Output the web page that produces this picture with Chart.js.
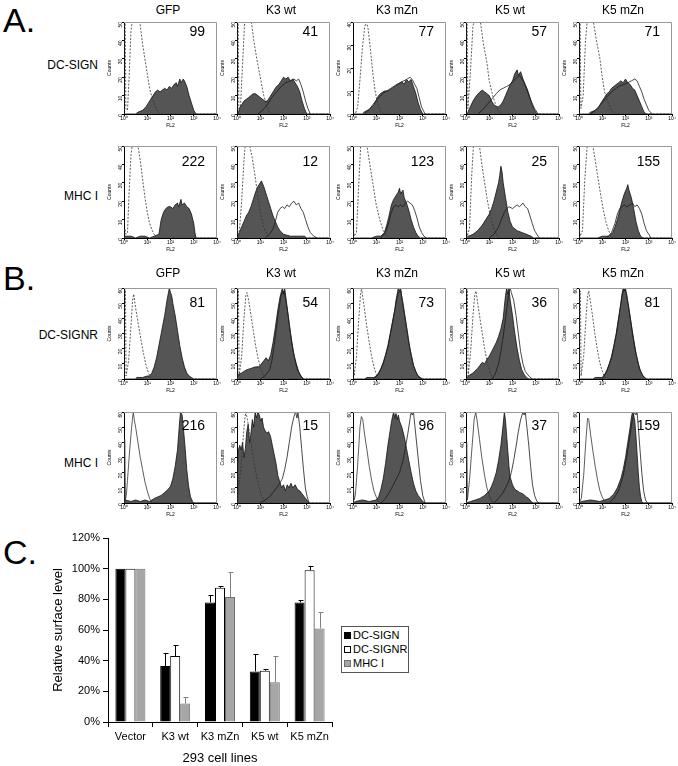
<!DOCTYPE html>
<html lang="en">
<head>
<meta charset="utf-8">
<title>DC-SIGN / DC-SIGNR / MHC I</title>
<script src="https://cdn.jsdelivr.net/npm/chart.js@4.4.1/dist/chart.umd.min.js"></script>
<style>
    body { margin: 0; background: #fff; }
    #figura { position: relative; width: 678px; height: 766px; overflow: hidden; font-family: "Liberation Sans", Arial, sans-serif; color: #000; }
    .texto { position: absolute; white-space: nowrap; }
    .panel { position: absolute; }
    #leyenda { position: absolute; left: 341px; top: 626px; width: 66px; height: 44px; border: 1px solid #555; font-size: 11px; padding-top: 1px; white-space: nowrap; }
    #leyenda div { height: 14px; line-height: 14px; padding-left: 2px; }
    #leyenda span { display: inline-block; width: 7px; height: 7px; box-sizing: border-box; margin-right: 2px; vertical-align: 0px; }
</style>
</head>
<body>
<div id="figura"></div>
<script>
//Lineas celulares (columnas) y etiquetas
const lineas = ['GFP', 'K3 wt', 'K3 mZn', 'K5 wt', 'K5 mZn'];
const decadas = ['10⁰', '10¹', '10²', '10³', '10⁴'];

//MFI que aparece en cada histograma
const mfiDcSign = [99, 41, 77, 57, 71];
const mfiMhcA = [222, 12, 123, 25, 155];
const mfiDcSignR = [81, 54, 73, 36, 81];
const mfiMhcB = [216, 15, 96, 37, 159];

//Maximo del eje de cuentas de cada histograma
const maxDcSign = [50, 50, 40, 50, 50];
const maxMhcA = [50, 50, 50, 50, 50];
const maxDcSignR = [60, 60, 60, 60, 60];
const maxMhcB = [60, 60, 60, 60, 60];

//Histogramas: pares [decada, cuentas]
//A. DC-SIGN
const dcSignControl = [
    [[0,0],[0.02,50],[0.05,50],[0.08,3],[0.15,2],[0.22,20],[0.3,45],[0.35,50],[0.68,50],[0.8,38],[0.9,30],[1.0,22],[1.1,14],[1.2,9],[1.35,4],[1.5,0],[4,0]],
    [[0,0],[0.02,50],[0.05,50],[0.08,3],[0.15,4],[0.25,30],[0.33,50],[0.62,50],[0.72,40],[0.85,30],[1.0,20],[1.15,10],[1.3,4],[1.42,0],[4,0]],
    [[0,0],[0.1,0],[0.2,3],[0.3,15],[0.4,28],[0.5,38],[0.58,40],[0.65,37],[0.75,28],[0.85,18],[0.95,10],[1.05,5],[1.2,1],[1.3,0],[4,0]],
    [[0,0],[0.02,50],[0.05,50],[0.08,3],[0.2,25],[0.3,48],[0.35,50],[0.62,50],[0.75,38],[0.9,28],[1.0,18],[1.15,10],[1.3,4],[1.45,0],[4,0]],
    [[0,0],[0.02,50],[0.05,50],[0.08,3],[0.18,10],[0.28,40],[0.35,50],[0.62,50],[0.75,40],[0.9,30],[1.0,20],[1.1,12],[1.35,3],[1.5,0],[4,0]]
];
const dcSignMuestra = [
    [[0,0],[0.5,0],[0.6,1],[0.8,2],[0.95,4],[1.05,6],[1.15,8],[1.25,10],[1.35,12],[1.45,13],[1.55,12],[1.65,13],[1.75,14],[1.85,13],[1.95,15],[2.05,14],[2.15,16],[2.25,17],[2.3,15],[2.4,19],[2.45,17],[2.55,19],[2.6,18],[2.7,15],[2.8,10],[2.9,6],[3.0,2],[3.1,0],[4,0]],
    [[0,0],[0.05,0],[0.1,3],[0.2,5],[0.3,7],[0.4,8],[0.5,9],[0.6,10],[0.7,11],[0.8,11],[0.9,10],[1.0,9],[1.1,8],[1.2,7],[1.3,7],[1.4,9],[1.5,11],[1.6,13],[1.7,15],[1.8,16],[1.9,18],[2.0,20],[2.1,19],[2.2,20],[2.3,18],[2.4,19],[2.5,17],[2.6,15],[2.7,12],[2.8,7],[2.9,3],[3.0,0],[4,0]],
    [[0,0],[0.4,0],[0.5,1],[0.7,2],[0.9,4],[1.0,6],[1.1,8],[1.2,9],[1.35,10],[1.5,10],[1.65,11],[1.8,12],[1.95,13],[2.1,14],[2.2,13],[2.3,15],[2.4,14],[2.5,15],[2.6,12],[2.7,9],[2.8,5],[2.9,2],[3.0,0],[4,0]],
    [[0,0],[0.05,0],[0.15,3],[0.3,7],[0.45,10],[0.6,12],[0.7,13],[0.8,12],[0.9,11],[1.0,10],[1.1,7],[1.2,5],[1.3,4],[1.4,4],[1.5,5],[1.6,7],[1.7,10],[1.8,13],[1.9,16],[2.0,18],[2.1,22],[2.2,24],[2.25,21],[2.35,23],[2.45,19],[2.55,16],[2.65,13],[2.75,9],[2.85,5],[2.95,2],[3.05,0],[4,0]],
    [[0,0],[0.4,0],[0.5,1],[0.7,2],[0.85,4],[1.0,7],[1.1,9],[1.2,11],[1.3,12],[1.4,14],[1.5,15],[1.6,16],[1.7,17],[1.8,18],[1.9,17],[2.0,19],[2.1,17],[2.2,16],[2.3,14],[2.4,13],[2.5,10],[2.6,7],[2.7,4],[2.8,1],[2.9,0],[4,0]]
];
const dcSignReferencia = [
    null,
    [[0.9,0],[1.1,2],[1.3,5],[1.5,9],[1.7,12],[1.9,15],[2.1,17],[2.3,18],[2.45,19],[2.55,18],[2.65,19],[2.75,16],[2.85,12],[2.95,7],[3.05,3],[3.15,0]],
    [[0.5,0],[0.7,2],[1.0,6],[1.3,9],[1.6,11],[1.9,13],[2.1,14],[2.3,15],[2.45,16],[2.55,15],[2.65,13],[2.75,11],[2.85,7],[2.95,3],[3.1,0]],
    [[0.5,0],[0.7,2],[0.9,5],[1.1,8],[1.3,11],[1.45,13],[1.6,14],[1.75,15],[1.9,16],[2.05,18],[2.2,20],[2.3,21],[2.4,19],[2.5,17],[2.65,12],[2.8,7],[2.95,3],[3.1,0]],
    [[0.5,0],[0.8,3],[1.1,8],[1.4,12],[1.7,15],[1.9,16],[2.1,17],[2.25,18],[2.4,19],[2.5,18],[2.6,15],[2.7,12],[2.8,8],[2.9,5],[3.0,2],[3.15,0]]
];

//A. MHC I
const mhcAControl = [
    [[0,0],[0.02,5],[0.05,5],[0.08,2],[0.15,3],[0.22,25],[0.3,45],[0.35,50],[0.6,50],[0.7,42],[0.8,32],[0.9,22],[1.0,14],[1.1,8],[1.25,3],[1.4,0],[4,0]],
    [[0,0],[0.02,5],[0.05,0],[0.1,3],[0.2,20],[0.3,42],[0.35,50],[0.55,50],[0.65,44],[0.75,36],[0.85,27],[0.95,18],[1.05,11],[1.15,6],[1.3,2],[1.45,0],[4,0]],
    [[0,0],[0.02,5],[0.05,1],[0.15,3],[0.25,30],[0.33,50],[0.6,50],[0.7,42],[0.85,30],[1.0,18],[1.15,10],[1.3,4],[1.45,1],[1.6,0],[4,0]],
    [[0,0],[0.02,5],[0.05,1],[0.15,5],[0.25,35],[0.32,50],[0.58,50],[0.68,40],[0.8,30],[0.9,22],[1.0,15],[1.1,9],[1.2,5],[1.4,0],[4,0]],
    [[0,0],[0.02,5],[0.05,1],[0.15,4],[0.25,32],[0.35,50],[0.6,50],[0.7,42],[0.85,30],[0.95,22],[1.05,15],[1.15,9],[1.25,5],[1.4,0],[4,0]]
];
const mhcAMuestra = [
    [[0,0],[0.05,1],[0.3,1],[0.5,0],[0.7,1],[0.9,1],[1.1,0],[1.3,1],[1.5,2],[1.55,6],[1.6,10],[1.7,14],[1.8,16],[1.9,17],[2.0,17],[2.1,16],[2.2,18],[2.3,19],[2.35,17],[2.45,21],[2.5,18],[2.6,19],[2.7,17],[2.8,16],[2.9,13],[3.0,8],[3.05,3],[3.1,0],[4,0]],
    [[0,0],[0.1,3],[0.2,6],[0.3,9],[0.4,12],[0.5,14],[0.6,17],[0.7,21],[0.8,25],[0.9,28],[1.0,30],[1.05,31],[1.15,28],[1.25,24],[1.35,20],[1.45,16],[1.55,12],[1.65,9],[1.75,6],[1.85,4],[2.0,2],[2.3,1],[2.6,1],[2.9,1],[3.0,0],[4,0]],
    [[0,0],[0.8,0],[1.0,1],[1.2,1],[1.35,3],[1.45,7],[1.55,12],[1.65,18],[1.75,21],[1.85,23],[1.95,25],[2.0,27],[2.05,24],[2.15,26],[2.2,22],[2.3,19],[2.4,15],[2.5,10],[2.6,6],[2.7,3],[2.8,1],[2.9,0],[4,0]],
    [[0,0],[0.1,1],[0.3,2],[0.5,4],[0.7,7],[0.85,10],[1.0,13],[1.1,16],[1.2,20],[1.3,25],[1.4,30],[1.45,34],[1.5,39],[1.55,36],[1.6,30],[1.7,22],[1.8,14],[1.9,9],[2.0,6],[2.2,4],[2.4,3],[2.6,2],[2.8,1],[2.9,0],[4,0]],
    [[0,0],[0.8,0],[1.0,1],[1.3,1],[1.45,3],[1.55,6],[1.65,10],[1.75,15],[1.85,20],[1.95,24],[2.05,27],[2.1,29],[2.15,26],[2.25,22],[2.35,16],[2.45,9],[2.55,4],[2.65,1],[2.75,0],[4,0]]
];
const mhcAReferencia = [
    null,
    [[1.2,0],[1.4,2],[1.55,5],[1.65,9],[1.75,14],[1.85,16],[1.95,17],[2.05,16],[2.15,18],[2.25,17],[2.35,19],[2.45,20],[2.55,18],[2.65,19],[2.75,16],[2.85,14],[2.95,10],[3.05,6],[3.15,3],[3.3,1],[3.45,0]],
    [[1.2,0],[1.4,3],[1.55,9],[1.65,14],[1.75,17],[1.85,18],[1.95,17],[2.05,18],[2.15,17],[2.25,19],[2.35,20],[2.45,19],[2.55,18],[2.65,15],[2.75,11],[2.85,6],[2.95,3],[3.05,1],[3.15,0]],
    [[1.0,0],[1.2,2],[1.4,6],[1.55,11],[1.65,14],[1.75,16],[1.85,17],[2.0,16],[2.1,17],[2.2,18],[2.3,17],[2.45,19],[2.55,17],[2.65,16],[2.75,12],[2.85,8],[2.95,4],[3.05,2],[3.15,0]],
    [[1.2,0],[1.4,3],[1.55,8],[1.65,13],[1.75,16],[1.85,17],[1.95,18],[2.05,17],[2.2,18],[2.3,19],[2.4,17],[2.5,18],[2.6,16],[2.7,13],[2.8,8],[2.9,4],[3.0,2],[3.1,0]]
];

//B. DC-SIGNR
const dcSignRControl = [
    [[0,0],[0.03,60],[0.06,60],[0.09,2],[0.2,12],[0.3,35],[0.37,52],[0.42,56],[0.47,50],[0.55,42],[0.65,33],[0.75,24],[0.85,16],[0.95,9],[1.05,4],[1.15,1],[1.25,0],[4,0]],
    [[0,0],[0.03,60],[0.06,60],[0.09,2],[0.2,15],[0.3,40],[0.38,55],[0.43,57],[0.5,52],[0.6,42],[0.7,32],[0.8,22],[0.9,14],[1.0,8],[1.1,4],[1.2,1],[1.3,0],[4,0]],
    [[0,0],[0.02,10],[0.05,2],[0.15,15],[0.25,40],[0.32,55],[0.37,60],[0.42,54],[0.5,45],[0.6,34],[0.7,24],[0.8,15],[0.9,8],[1.0,3],[1.1,0],[4,0]],
    [[0,0],[0.03,60],[0.06,60],[0.09,2],[0.2,18],[0.3,42],[0.38,56],[0.43,58],[0.5,50],[0.6,40],[0.7,30],[0.8,20],[0.9,12],[1.0,6],[1.1,2],[1.2,0],[4,0]],
    [[0,0],[0.03,58],[0.06,58],[0.09,2],[0.2,15],[0.3,40],[0.37,55],[0.42,58],[0.48,52],[0.58,42],[0.68,30],[0.78,20],[0.88,12],[0.98,6],[1.08,2],[1.2,0],[4,0]]
];
const dcSignRMuestra = [
    [[0,0],[0.5,0],[0.55,1],[0.8,1],[1.0,2],[1.1,2],[1.2,4],[1.3,8],[1.4,14],[1.5,22],[1.6,30],[1.7,38],[1.75,42],[1.8,47],[1.85,52],[1.9,56],[1.95,60],[2.0,57],[2.05,55],[2.1,50],[2.2,42],[2.3,32],[2.4,22],[2.5,14],[2.6,8],[2.7,4],[2.8,2],[2.9,1],[3.0,0],[4,0]],
    [[0,0],[0.05,3],[0.2,4],[0.4,6],[0.6,7],[0.8,8],[0.95,8],[1.05,10],[1.15,12],[1.25,14],[1.35,12],[1.45,16],[1.55,24],[1.65,34],[1.75,45],[1.85,54],[1.95,60],[2.0,56],[2.05,60],[2.15,48],[2.25,36],[2.35,25],[2.45,16],[2.55,10],[2.65,5],[2.75,2],[2.85,0],[4,0]],
    [[0,0],[0.5,0],[0.6,1],[0.9,1],[1.0,2],[1.1,4],[1.2,7],[1.3,11],[1.4,16],[1.5,22],[1.6,30],[1.7,38],[1.8,46],[1.85,52],[1.9,56],[1.95,60],[2.0,58],[2.05,60],[2.1,54],[2.2,44],[2.3,34],[2.4,24],[2.5,16],[2.6,9],[2.7,5],[2.8,2],[2.9,1],[3.0,0],[4,0]],
    [[0,0],[0.1,2],[0.3,4],[0.5,7],[0.6,9],[0.7,11],[0.8,10],[0.9,13],[1.0,15],[1.1,18],[1.2,21],[1.3,24],[1.4,28],[1.5,33],[1.6,40],[1.65,48],[1.7,55],[1.75,60],[1.8,56],[1.85,60],[1.9,52],[2.0,42],[2.1,30],[2.2,20],[2.3,12],[2.4,6],[2.5,3],[2.6,1],[2.7,0],[4,0]],
    [[0,0],[0.6,0],[0.7,1],[1.0,1],[1.1,3],[1.2,6],[1.3,10],[1.4,15],[1.5,22],[1.6,30],[1.7,40],[1.8,50],[1.85,56],[1.9,60],[1.95,58],[2.0,60],[2.05,55],[2.15,46],[2.25,36],[2.35,26],[2.45,17],[2.55,10],[2.65,5],[2.75,2],[2.9,0],[4,0]]
];
const dcSignRReferencia = [
    null,
    [[1.0,0],[1.2,2],[1.4,6],[1.5,12],[1.6,22],[1.7,34],[1.8,46],[1.9,55],[2.0,58],[2.1,52],[2.2,42],[2.3,30],[2.4,20],[2.5,12],[2.6,6],[2.7,3],[2.85,0]],
    [[0.9,0],[1.1,3],[1.3,10],[1.5,21],[1.7,37],[1.85,50],[1.95,57],[2.05,58],[2.15,50],[2.3,35],[2.45,20],[2.6,9],[2.75,3],[2.9,0]],
    [[1.1,0],[1.25,3],[1.4,10],[1.5,18],[1.6,28],[1.7,40],[1.8,52],[1.85,58],[1.9,60],[1.95,57],[2.05,52],[2.15,42],[2.25,30],[2.35,18],[2.45,10],[2.55,5],[2.7,2],[2.85,0]],
    [[1.0,0],[1.2,5],[1.4,14],[1.6,29],[1.75,44],[1.85,55],[1.95,60],[2.05,56],[2.15,46],[2.3,30],[2.45,17],[2.6,7],[2.75,2],[2.9,0]]
];

//B. MHC I
const mhcBControl = [
    [[0,0],[0.02,42],[0.04,42],[0.06,2],[0.1,5],[0.15,15],[0.22,30],[0.3,45],[0.36,55],[0.4,60],[0.45,54],[0.5,50],[0.6,40],[0.7,30],[0.8,22],[0.9,14],[1.0,8],[1.1,3],[1.2,0],[4,0]],
    [[0,0],[0.05,8],[0.15,20],[0.25,40],[0.33,55],[0.38,60],[0.45,55],[0.55,45],[0.65,35],[0.75,25],[0.85,17],[0.95,10],[1.05,5],[1.15,2],[1.3,0],[4,0]],
    [[0,0],[0.02,10],[0.05,2],[0.1,5],[0.2,25],[0.3,50],[0.36,57],[0.42,55],[0.5,45],[0.6,35],[0.7,24],[0.8,15],[0.9,8],[1.0,4],[1.1,1],[1.2,0],[4,0]],
    [[0,0],[0.02,40],[0.04,40],[0.06,2],[0.15,15],[0.25,35],[0.35,55],[0.42,60],[0.48,54],[0.58,42],[0.68,30],[0.8,18],[0.9,10],[1.0,5],[1.1,1],[1.2,0],[4,0]],
    [[0,0],[0.1,3],[0.2,18],[0.3,42],[0.37,56],[0.42,55],[0.5,45],[0.6,34],[0.7,24],[0.8,15],[0.9,8],[1.0,4],[1.1,1],[1.2,0],[4,0]]
];
const mhcBMuestra = [
    [[0,0],[0.05,2],[0.3,1],[0.5,2],[0.7,1],[0.9,2],[1.1,1],[1.3,3],[1.45,4],[1.6,5],[1.75,7],[1.9,9],[2.0,11],[2.1,16],[2.2,24],[2.3,35],[2.35,45],[2.4,55],[2.43,60],[2.5,58],[2.55,50],[2.62,38],[2.7,22],[2.78,11],[2.86,4],[2.95,1],[3.0,0],[4,0]],
    [[0,0],[0.03,25],[0.06,35],[0.12,38],[0.18,35],[0.24,40],[0.3,30],[0.36,36],[0.42,47],[0.48,52],[0.54,40],[0.6,46],[0.66,55],[0.72,50],[0.78,60],[0.84,56],[0.9,60],[0.96,58],[1.02,54],[1.08,56],[1.14,50],[1.2,48],[1.28,46],[1.36,47],[1.44,44],[1.52,38],[1.6,32],[1.68,26],[1.76,18],[1.84,14],[1.92,10],[2.0,12],[2.08,8],[2.16,12],[2.24,10],[2.32,13],[2.4,10],[2.5,12],[2.6,9],[2.7,8],[2.8,6],[2.9,4],[3.0,2],[3.1,0],[4,0]],
    [[0,0],[0.1,1],[0.4,2],[0.7,1],[1.0,2],[1.1,4],[1.2,9],[1.3,16],[1.4,26],[1.5,38],[1.6,48],[1.65,53],[1.7,57],[1.75,60],[1.8,56],[1.85,59],[1.9,55],[1.95,58],[2.0,54],[2.1,50],[2.2,44],[2.3,36],[2.4,28],[2.5,20],[2.6,13],[2.7,8],[2.8,5],[2.9,3],[3.0,1],[3.1,0],[4,0]],
    [[0,0],[0.2,1],[0.4,2],[0.6,3],[0.8,5],[1.0,8],[1.1,11],[1.2,15],[1.3,20],[1.4,28],[1.5,38],[1.55,45],[1.6,52],[1.65,60],[1.7,54],[1.75,44],[1.8,34],[1.85,24],[1.9,17],[2.0,12],[2.1,9],[2.2,8],[2.3,7],[2.45,6],[2.6,4],[2.7,3],[2.8,1],[2.9,0],[4,0]],
    [[0,0],[0.1,1],[0.5,2],[0.9,1],[1.1,2],[1.3,3],[1.5,6],[1.65,10],[1.8,16],[1.9,22],[2.0,30],[2.1,40],[2.2,50],[2.25,56],[2.3,60],[2.35,58],[2.4,54],[2.45,44],[2.5,32],[2.55,20],[2.6,10],[2.65,4],[2.7,1],[2.75,0],[4,0]]
];
const mhcBReferencia = [
    null,
    [[1.0,0],[1.2,2],[1.4,4],[1.6,8],[1.8,12],[1.95,16],[2.05,22],[2.15,30],[2.25,40],[2.35,50],[2.45,57],[2.52,60],[2.58,56],[2.62,60],[2.7,50],[2.78,36],[2.86,22],[2.94,10],[3.02,4],[3.1,0]],
    [[1.2,0],[1.4,3],[1.6,8],[1.8,14],[2.0,20],[2.15,28],[2.25,36],[2.35,45],[2.45,55],[2.5,60],[2.55,58],[2.6,60],[2.7,45],[2.8,30],[2.9,15],[3.0,5],[3.1,0]],
    [[1.2,0],[1.4,3],[1.6,7],[1.8,13],[1.95,20],[2.05,28],[2.15,37],[2.25,47],[2.35,55],[2.45,60],[2.5,58],[2.55,60],[2.62,50],[2.7,38],[2.78,24],[2.86,12],[2.95,5],[3.05,1],[3.15,0]],
    [[1.3,0],[1.5,3],[1.7,8],[1.9,18],[2.05,30],[2.2,45],[2.3,55],[2.38,60],[2.45,58],[2.5,60],[2.55,50],[2.62,36],[2.7,20],[2.78,8],[2.86,2],[2.95,0]]
];

//C. Grafica de barras
const categorias = ['Vector', 'K3 wt', 'K3 mZn', 'K5 wt', 'K5 mZn'];
const nombresSeries = ['DC-SIGN', 'DC-SIGNR', 'MHC I'];
const serieDcSign = [100, 36.5, 78, 33, 78];
const serieDcSignR = [100, 43, 87.5, 33.5, 99];
const serieMhc = [100, 12, 81.5, 26, 61];
const errorDcSign = [0, 8.5, 5, 11.5, 1.5];
const errorDcSignR = [0, 7.5, 1.5, 1, 3];
const errorMhc = [0, 4, 16.5, 17, 11];
const ticksPorcentaje = [0, 20, 40, 60, 80, 100, 120];


//Posicion de los paneles en la figura
const columnasX = [124, 237, 353, 466, 579];
const anchoPanel = 93;

const filas = [
    { nombre: 'DC-SIGN', top: 22, alto: 92, yEtiqueta: 65, yTitulo: 10, yNumero: 31, mfi: mfiDcSign, max: maxDcSign,
      control: dcSignControl, muestra: dcSignMuestra, referencia: dcSignReferencia, punteado: [1, 1, 1, 1, 1] },
    { nombre: 'MHC I', top: 146, alto: 92, yEtiqueta: 196, yTitulo: null, yNumero: 161, mfi: mfiMhcA, max: maxMhcA,
      control: mhcAControl, muestra: mhcAMuestra, referencia: mhcAReferencia, punteado: [1, 1, 1, 1, 1] },
    { nombre: 'DC-SIGNR', top: 288, alto: 91, yEtiqueta: 335, yTitulo: 273, yNumero: 302, mfi: mfiDcSignR, max: maxDcSignR,
      control: dcSignRControl, muestra: dcSignRMuestra, referencia: dcSignRReferencia, punteado: [1, 1, 1, 1, 1] },
    { nombre: 'MHC I', top: 412, alto: 91, yEtiqueta: 463, yTitulo: null, yNumero: 425, mfi: mfiMhcB, max: maxMhcB,
      control: mhcBControl, muestra: mhcBMuestra, referencia: mhcBReferencia, punteado: [0, 1, 0, 0, 0] }
];

const figura = document.querySelector('#figura');

document.addEventListener('DOMContentLoaded', function() {
    iniciarApp();
});

function iniciarApp() {
    Chart.defaults.font.family = '"Liberation Sans", Arial, sans-serif';
    Chart.defaults.color = '#000';

    //Letras de los paneles
    ponerTexto('A.', 3, 20, 34, 'left');
    ponerTexto('B.', 3, 278, 34, 'left');
    ponerTexto('C.', 3, 552, 34, 'left');

    //Histogramas de citometria
    filas.forEach(fila => {
        ponerTexto(fila.nombre, 98, fila.yEtiqueta, 12, 'right');
        lineas.forEach((linea, col) => {
            if (fila.yTitulo !== null) {
                ponerTexto(linea, columnasX[col] + 44, fila.yTitulo, 12, 'center');
            }
            crearHistograma(fila, col);
            ponerTexto(String(fila.mfi[col]), columnasX[col] + anchoPanel - 12, fila.yNumero, 14, 'right');
        });
    });

    //Grafica de barras y su leyenda
    graficarBarras();
    crearLeyenda();
}

function ponerTexto(texto, x, y, tam, alin) {
    const div = document.createElement('DIV');
    div.className = 'texto';
    div.textContent = texto;
    div.style.fontSize = tam + 'px';
    div.style.lineHeight = tam + 'px';
    div.style.top = (y - tam / 2) + 'px';
    div.style.left = x + 'px';
    if (alin === 'center') div.style.transform = 'translateX(-50%)';
    if (alin === 'right') div.style.transform = 'translateX(-100%)';
    figura.appendChild(div);
}

//Dibuja el marco gris de arriba y derecha
const marco = {
    id: 'marco',
    afterDraw(chart) {
        const { ctx, chartArea: a } = chart;
        ctx.save();
        ctx.strokeStyle = '#999';
        ctx.lineWidth = 1;
        ctx.beginPath();
        ctx.moveTo(a.left, a.top + 0.5);
        ctx.lineTo(a.right - 0.5, a.top + 0.5);
        ctx.lineTo(a.right - 0.5, a.bottom);
        ctx.stroke();
        ctx.restore();
    }
};

function crearHistograma(fila, col) {
    const izq = 17, der = 6, arriba = 4, abajo = 15;
    const canvas = document.createElement('CANVAS');
    canvas.className = 'panel';
    canvas.width = anchoPanel + izq + der;
    canvas.height = fila.alto + arriba + abajo;
    canvas.style.left = (columnasX[col] - izq) + 'px';
    canvas.style.top = (fila.top - arriba) + 'px';
    figura.appendChild(canvas);

    const datasets = [];
    if (fila.referencia[col]) {
        datasets.push({ data: fila.referencia[col], borderColor: '#1a1a1a', borderWidth: 0.8, fill: false });
    }
    datasets.push({
        data: fila.control[col],
        borderColor: '#333',
        borderWidth: 0.8,
        borderDash: fila.punteado[col] ? [2, 1.5] : [],
        fill: false
    });
    datasets.push({ data: fila.muestra[col], borderColor: '#111', borderWidth: 0.8, backgroundColor: '#555', fill: 'origin' });

    const fuente = { size: 5 };
    new Chart(canvas, {
        type: 'line',
        data: { datasets },
        options: {
            responsive: false,
            animation: false,
            events: [],
            elements: { point: { radius: 0 }, line: { tension: 0 } },
            layout: { padding: { top: arriba, right: der, left: 0, bottom: 0 } },
            plugins: { legend: { display: false }, tooltip: { enabled: false } },
            scales: {
                x: {
                    type: 'linear', min: 0, max: 4,
                    afterFit: s => { s.height = abajo; },
                    ticks: { stepSize: 1, font: fuente, padding: 0, maxRotation: 0, callback: v => decadas[v] },
                    grid: { drawOnChartArea: false, tickLength: 2, color: '#000' },
                    border: { color: '#000' },
                    title: { display: true, text: 'FL2', font: fuente, padding: 0 }
                },
                y: {
                    min: 0, max: fila.max[col],
                    afterFit: s => { s.width = izq; },
                    ticks: { stepSize: 10, font: fuente, padding: 1, minRotation: 90, maxRotation: 90 },
                    grid: { drawOnChartArea: false, tickLength: 2, color: '#000' },
                    border: { color: '#000' },
                    title: { display: true, text: 'Counts', font: fuente, padding: 0 }
                }
            }
        },
        plugins: [marco]
    });
}

//Barras de error hacia arriba
const barrasError = {
    id: 'barrasError',
    afterDatasetsDraw(chart) {
        const { ctx } = chart;
        const escalaY = chart.scales.y;
        chart.data.datasets.forEach((ds, i) => {
            const meta = chart.getDatasetMeta(i);
            meta.data.forEach((barra, j) => {
                const err = ds.errores[j];
                if (!err) return;
                const y0 = escalaY.getPixelForValue(ds.data[j]);
                const y1 = escalaY.getPixelForValue(ds.data[j] + err);
                const x = Math.round(barra.x) + 0.5;
                ctx.save();
                ctx.strokeStyle = ds.colorError;
                ctx.lineWidth = 1;
                ctx.beginPath();
                ctx.moveTo(x, y0);
                ctx.lineTo(x, Math.round(y1) + 0.5);
                ctx.moveTo(x - 2, Math.round(y1) + 0.5);
                ctx.lineTo(x + 3, Math.round(y1) + 0.5);
                ctx.stroke();
                ctx.restore();
            });
        });
    }
};

function graficarBarras() {
    const canvas = document.createElement('CANVAS');
    canvas.className = 'panel';
    canvas.width = 340;
    canvas.height = 238;
    canvas.style.left = '0px';
    canvas.style.top = '528px';
    figura.appendChild(canvas);

    new Chart(canvas, {
        type: 'bar',
        data: {
            labels: categorias,
            datasets: [
                { label: nombresSeries[0], data: serieDcSign, errores: errorDcSign, colorError: '#000',
                  backgroundColor: '#000', borderColor: '#000', borderWidth: 1 },
                { label: nombresSeries[1], data: serieDcSignR, errores: errorDcSignR, colorError: '#000',
                  backgroundColor: '#fff', borderColor: '#000', borderWidth: 1 },
                { label: nombresSeries[2], data: serieMhc, errores: errorMhc, colorError: '#808080',
                  backgroundColor: '#a6a6a6', borderColor: '#6e6e6e', borderWidth: 1 }
            ]
        },
        options: {
            responsive: false,
            animation: false,
            events: [],
            categoryPercentage: 0.67,
            barPercentage: 1,
            layout: { padding: { top: 10, right: 8, left: 0, bottom: 0 } },
            plugins: { legend: { display: false }, tooltip: { enabled: false } },
            scales: {
                x: {
                    afterFit: s => { s.height = 44; },
                    ticks: { font: { size: 11 }, padding: 3, maxRotation: 0 },
                    grid: { offset: true, drawOnChartArea: false, tickLength: 5, color: '#000' },
                    border: { color: '#000' },
                    title: { display: true, text: '293 cell lines', font: { size: 13 }, padding: { top: 0, bottom: 0 } }
                },
                y: {
                    min: 0, max: 120,
                    afterFit: s => { s.width = 108; },
                    afterBuildTicks: s => { s.ticks = ticksPorcentaje.map(v => ({ value: v })); },
                    ticks: { font: { size: 11 }, padding: 3, callback: v => v + '%' },
                    grid: { drawOnChartArea: false, tickLength: 5, color: '#000' },
                    border: { color: '#000' },
                    title: { display: true, text: 'Relative surface level', font: { size: 13 }, padding: { top: 51, bottom: 0 } }
                }
            }
        },
        plugins: [barrasError]
    });
}

function crearLeyenda() {
    const rellenos = ['#000', '#fff', '#a6a6a6'];
    const bordes = ['#000', '#000', '#6e6e6e'];
    const leyenda = document.createElement('DIV');
    leyenda.id = 'leyenda';
    nombresSeries.forEach((nombre, i) => {
        const item = document.createElement('DIV');
        const cuadro = document.createElement('SPAN');
        cuadro.style.background = rellenos[i];
        cuadro.style.border = '1px solid ' + bordes[i];
        item.appendChild(cuadro);
        item.appendChild(document.createTextNode(nombre));
        leyenda.appendChild(item);
    });
    figura.appendChild(leyenda);
}
</script>
</body>
</html>
